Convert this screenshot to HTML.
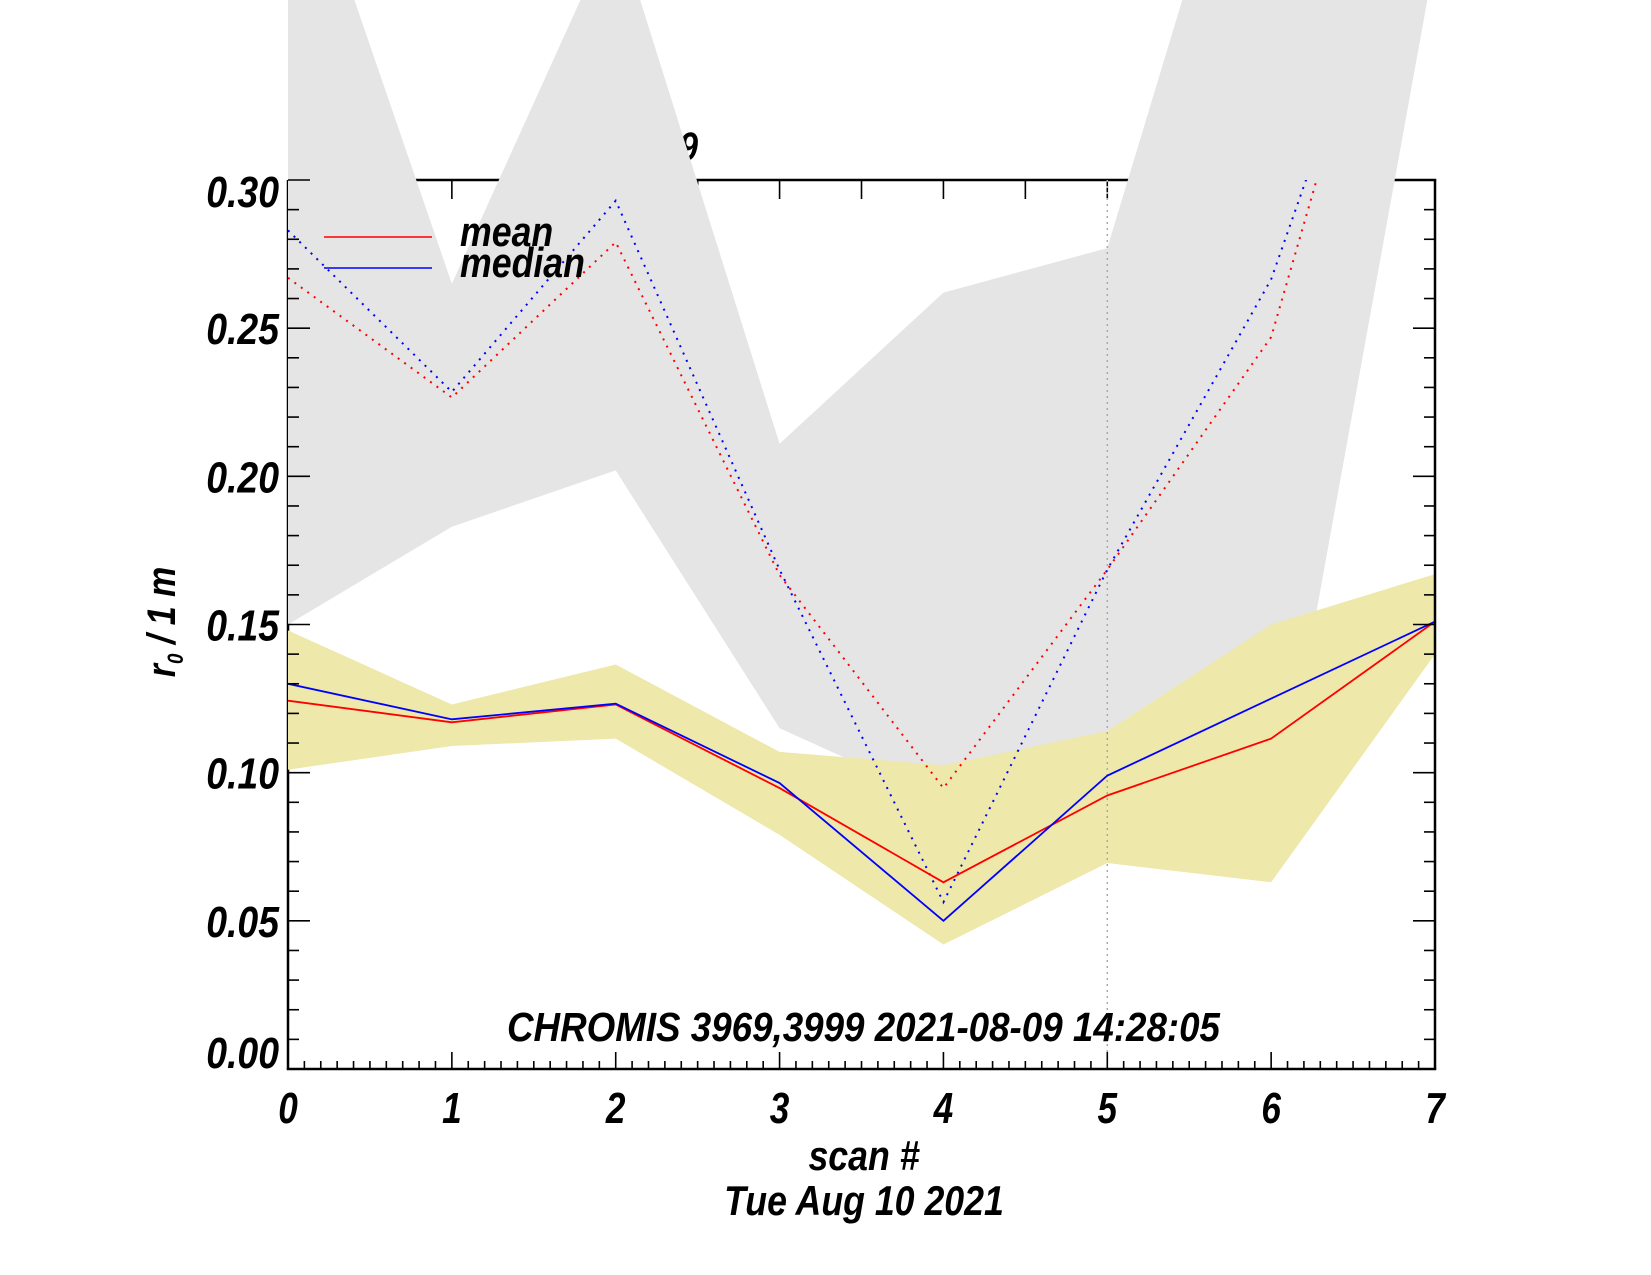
<!DOCTYPE html>
<html><head><meta charset="utf-8"><style>
html,body{margin:0;padding:0;background:#fff;}
svg{display:block;}
text{font-family:"Liberation Sans",sans-serif;font-weight:bold;font-style:italic;fill:#000;}
</style></head><body>
<svg id="chart" width="1651" height="1275" viewBox="0 0 1651 1275" xmlns="http://www.w3.org/2000/svg">
<defs><clipPath id="plotclip"><rect x="288" y="180" width="1147" height="889"/></clipPath>
<clipPath id="xclip"><rect x="288" y="0" width="1147" height="1069"/></clipPath></defs>
<text transform="translate(698,160) scale(0.85,1)" text-anchor="end" font-size="40">08-09</text>
<g id="under"></g>
<g id="bands"></g>
<g id="lines" clip-path="url(#plotclip)"></g>
<g id="axes"></g>
<g>
<line x1="324" y1="237" x2="432" y2="237" stroke="#f00" stroke-width="1.5"/>
<line x1="324" y1="268" x2="432" y2="268" stroke="#00f" stroke-width="1.5"/>
<text transform="translate(460,246) scale(0.85,1)" font-size="42">mean</text>
<text transform="translate(460,277) scale(0.85,1)" font-size="42">median</text>
</g>
<text x="507" y="1041" font-size="41" textLength="713" lengthAdjust="spacingAndGlyphs">CHROMIS 3969,3999 2021-08-09 14:28:05</text>
<text transform="translate(864,1170) scale(0.85,1)" text-anchor="middle" font-size="42">scan #</text>
<text transform="translate(864,1215) scale(0.85,1)" text-anchor="middle" font-size="42">Tue Aug 10 2021</text>
<g transform="translate(175,622) rotate(-90) scale(0.85,1)">
<text text-anchor="middle" font-size="40">r<tspan font-size="22" dy="8">0</tspan><tspan dy="-8"> / 1 m</tspan></text>
</g>
</svg>
<script>
const scans=[0,1,2,3,4,5,6,7];
const grayUpper=[0.426,0.265,0.387,0.211,0.262,0.277,0.46,0.62];
const grayLower=[0.150,0.183,0.202,0.115,0.090,0.110,0.070,0.375];
const yelUpper=[0.148,0.123,0.1365,0.107,0.1025,0.114,0.150,0.167];
const yelLower=[0.101,0.109,0.1115,0.079,0.042,0.0695,0.063,0.140];
const meanVals=[0.1243,0.117,0.123,0.0948,0.063,0.0923,0.1115,0.151];
const medianVals=[0.130,0.118,0.1233,0.0965,0.050,0.099,0.125,0.151];
const meanDotted=[0.267,0.2266,0.279,0.1667,0.0948,0.1685,0.247,0.438];
const medianDotted=[0.283,0.2285,0.293,0.1685,0.0563,0.1685,0.2665,0.424];
const yTicks=[0,0.05,0.10,0.15,0.20,0.25,0.30];
const yTickLabels=["0.00","0.05","0.10","0.15","0.20","0.25","0.30"];
const xTickLabels=["0","1","2","3","4","5","6","7"];
const topTicks=[0.5,1,1.5,2,2.5,3,3.5,4,4.5,5,5.5,6,6.5];
const markerScan=5;

const X0=288,X1=1435,Y0=1069,Y1=180;
const sx=v=>X0+(v-0)/(7-0)*(X1-X0);
const sy=v=>Y0-(v-0)/(0.30-0)*(Y0-Y1);
const NS="http://www.w3.org/2000/svg";
function mk(tag,parent){const e=document.createElementNS(NS,tag);parent.appendChild(e);return e;}
const under=document.getElementById('under'),bands=document.getElementById('bands'),lines=document.getElementById('lines'),axes=document.getElementById('axes');
bands.setAttribute('clip-path','url(#xclip)');
function ln(p,x1,y1,x2,y2,w){const l=mk('line',p);l.setAttribute('x1',x1);l.setAttribute('y1',y1);l.setAttribute('x2',x2);l.setAttribute('y2',y2);l.setAttribute('stroke','#000');l.setAttribute('stroke-width',w);return l;}
const topAx=ln(under,X0,Y1,X1+1.25,Y1,2.5);


const leftAx=ln(under,X0,Y1,X0,Y0,2.5);


topTicks.forEach(v=>{const t=ln(under,sx(v),Y1,sx(v),Y1+19,1.6);

});
function bandPts(up,lo){let p=scans.map((s,i)=>sx(s)+','+sy(up[i]));for(let i=scans.length-1;i>=0;i--)p.push(sx(scans[i])+','+sy(lo[i]));return p.join(' ');}
const g=mk('polygon',bands);


g.setAttribute('points',bandPts(grayUpper,grayLower));g.setAttribute('fill','#e5e5e5');
const yb=mk('polygon',bands);


yb.setAttribute('points',bandPts(yelUpper,yelLower));yb.setAttribute('fill','#eee8aa');
const vl=mk('line',lines);


vl.setAttribute('x1',sx(markerScan));vl.setAttribute('x2',sx(markerScan));vl.setAttribute('y1',Y1);vl.setAttribute('y2',Y0);
vl.setAttribute('stroke','#aaa');vl.setAttribute('stroke-width','1.5');vl.setAttribute('stroke-dasharray','2,4');
function series(vals,color,dash,name){const p=mk('polyline',lines);


p.setAttribute('points',scans.map((s,i)=>sx(s)+','+sy(vals[i])).join(' '));
p.setAttribute('fill','none');p.setAttribute('stroke',color);p.setAttribute('stroke-width',dash?'2':'1.8');
if(dash)p.setAttribute('stroke-dasharray','2,6');}
series(meanDotted,'#f00',true,'mean-dotted-line');
series(medianDotted,'#00f',true,'median-dotted-line');
series(meanVals,'#f00',false,'mean-line');
series(medianVals,'#00f',false,'median-line');
const ba=ln(axes,X0-1.25,Y0,X1+1.25,Y0,2.5);


const ra=ln(axes,X1,Y1,X1,Y0,2.5);


for(let i=0;i<=70;i++){const v=i/10,x=sx(v),L=(i%10===0)?17:8;
const a=ln(axes,x,Y0,x,Y0-L,1.6);}
for(let i=0;i<=30;i++){const v=i/100,y=sy(v),L=(i%5===0)?22:11;
const a=ln(axes,X0,y,X0+L,y,1.6);
const b=ln(axes,X1,y,X1-L,y,1.6);}
xTickLabels.forEach((t,i)=>{const e=mk('text',axes);


e.setAttribute('transform','translate('+sx(scans[i])+',1123) scale(0.8,1)');e.setAttribute('text-anchor','middle');e.setAttribute('font-size','44');e.textContent=t;});
yTicks.forEach((v,i)=>{const e=mk('text',axes);


let by=sy(v)+16;if(i===0)by=Y0-1;if(i===yTicks.length-1)by=sy(v)+27;
e.setAttribute('transform','translate(279,'+by+') scale(0.85,1)');e.setAttribute('text-anchor','end');e.setAttribute('font-size','44');e.textContent=yTickLabels[i];});
</script>
</body></html>
